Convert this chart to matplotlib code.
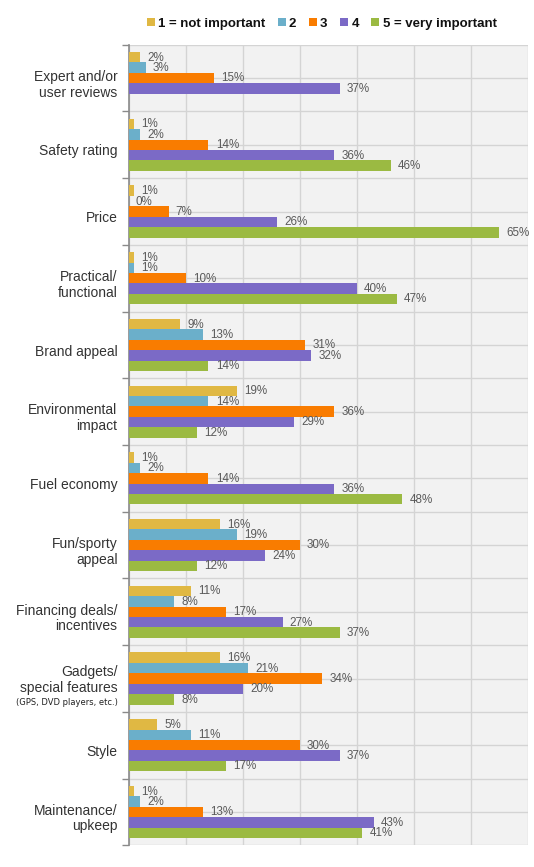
import numpy as np
import matplotlib
matplotlib.use("Agg")
import matplotlib.pyplot as plt
from matplotlib.lines import Line2D

# Data (percent of respondents)
categories = [
    "Expert and/or\nuser reviews",
    "Safety rating",
    "Price",
    "Practical/\nfunctional",
    "Brand appeal",
    "Environmental\nimpact",
    "Fuel economy",
    "Fun/sporty\nappeal",
    "Financing deals/\nincentives",
    "Gadgets/\nspecial features",
    "Style",
    "Maintenance/\nupkeep",
]
subtitles = {"Gadgets/\nspecial features": "(GPS, DVD players, etc.)"}

series_names = ["1 = not important", "2", "3", "4", "5 = very important"]
not_important = [2, 1, 1, 1, 9, 19, 1, 16, 11, 16, 5, 1]
rating_2 = [3, 2, 0, 1, 13, 14, 2, 19, 8, 21, 11, 2]
rating_3 = [15, 14, 7, 10, 31, 36, 14, 30, 17, 34, 30, 13]
rating_4 = [37, 36, 26, 40, 32, 29, 36, 24, 27, 20, 37, 43]
very_important = [np.nan, 46, 65, 47, 14, 12, 48, 12, 37, 8, 17, 41]

series = [not_important, rating_2, rating_3, rating_4, very_important]
colors = ["#E0B843", "#6BAFCA", "#F97C00", "#7B6AC6", "#9BBA42"]

plt.rcParams["font.family"] = ["Liberation Sans", "DejaVu Sans"]

fig = plt.figure(figsize=(5.34, 8.67), dpi=100)
ax = fig.add_axes([0.2410, 0.02503, 0.7472, 0.9234])
ax.set_facecolor("#F2F2F2")

n = len(categories)
y = np.arange(n)
bar_h = 0.156

for k, (vals, col) in enumerate(zip(series, colors)):
    yy = y + (k - 2) * bar_h
    vals = np.array(vals, dtype=float)
    ax.barh(yy, np.nan_to_num(vals), height=bar_h, color=col, zorder=3, linewidth=0)
    for yi, v in zip(yy, vals):
        if np.isnan(v):
            continue
        ax.annotate(f"{v:.0f}%", (v, yi), xytext=(5.2, -0.3), textcoords="offset points",
                    ha="left", va="center", fontsize=8.4, color="#5A5A5A", zorder=4)

ax.set_xlim(0, 70)
ax.set_ylim(n - 0.5, -0.5)

# grid
ax.set_xticks(np.arange(0, 71, 10))
ax.xaxis.grid(True, color="#D4D4D4", linewidth=1, zorder=0)
ax.tick_params(axis="x", length=0, labelbottom=False)
ax.set_yticks(np.arange(-0.5, n, 1.0), minor=True)
ax.yaxis.grid(True, which="minor", color="#D4D4D4", linewidth=1, zorder=0)
for yi in y:
    ax.axhline(yi, color="#D4D4D4", linewidth=1, zorder=0)
ax.set_yticks([])
ax.tick_params(axis="y", which="minor", length=5, width=1, color="#8A8A8A", direction="out")
ax.set_axisbelow(True)

for s in ["top", "right", "bottom"]:
    ax.spines[s].set_visible(False)
ax.spines["left"].set_color("#8A8A8A")
ax.spines["left"].set_linewidth(1.2)

# category labels
lab_tr = matplotlib.transforms.offset_copy(ax.get_yaxis_transform(), fig=fig, x=-8, y=0, units="points")
for yi, cat in zip(y, categories):
    if cat in subtitles:
        ax.text(0, yi + 0.02, cat, transform=lab_tr, ha="right", va="center", multialignment="right",
                fontsize=10, color="#333333", linespacing=1.15)
        ax.text(0, yi + 0.36, subtitles[cat], transform=lab_tr, ha="right", va="center",
                fontsize=6, color="#222222", family="DejaVu Sans")
    else:
        ax.text(0, yi + 0.1, cat, transform=lab_tr, ha="right", va="center", multialignment="right",
                fontsize=10, color="#333333", linespacing=1.15)

# legend
handles = [Line2D([0], [0], marker="s", linestyle="none", markersize=5.5,
                  markerfacecolor=c, markeredgewidth=0) for c in colors]
fig.legend(handles, series_names, loc="center", bbox_to_anchor=(0.603, 0.9727), ncol=5,
           frameon=False, handlelength=0.5, handletextpad=0.3, columnspacing=1.0,
           prop={"weight": "bold", "size": 9.5}, labelcolor="#111111")

fig.savefig("out.png", dpi=100, facecolor="white")
